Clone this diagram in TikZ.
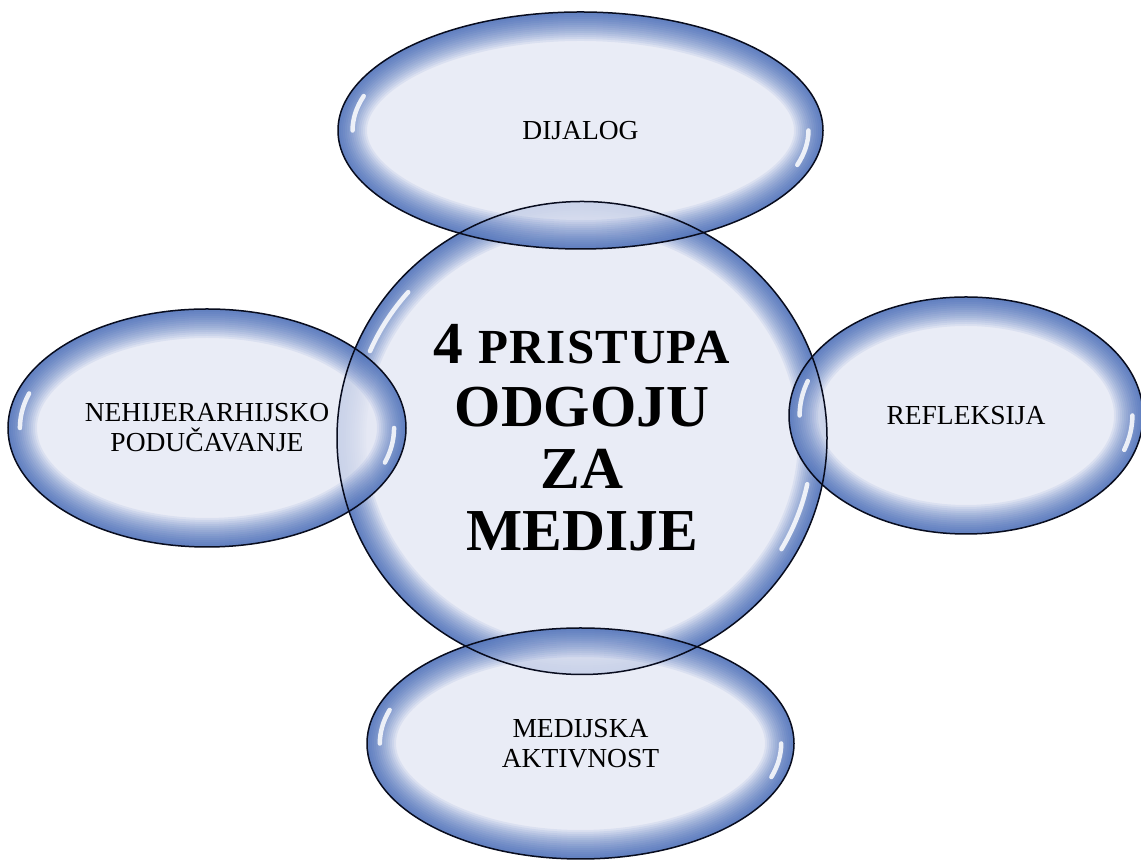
\documentclass[tikz,border=0pt]{standalone}
\usepackage{fontspec}
\setmainfont{Liberation Serif}
\usepackage{tikz}
\usetikzlibrary{shapes.geometric,positioning,backgrounds}

\definecolor{bubfill}{RGB}{228,231,244}
\definecolor{bubedge}{RGB}{38,82,172}
\definecolor{bubline}{RGB}{8,12,30}

\begin{document}
\begin{tikzpicture}[x=1pt,y=1pt,
  bubble/.style={ellipse,inner sep=0pt,align=center,font=\fontsize{27.5}{30}\selectfont},
  gloss/.style={white,line width=4.5pt,line cap=round,draw opacity=0.85}]
\useasboundingbox (0,0) rectangle (1141,861);
\node[bubble] (pristupi) at (582,423) [minimum width=490pt, minimum height=473pt,
  font=\bfseries\fontsize{59.5}{62.3}\selectfont]
  {4 {\fontsize{49}{62.3}\selectfont\addfontfeature{LetterSpace=3}PRISTUPA}\\ODGOJU\\ZA\\MEDIJE};
\node[bubble] (dijalog) [minimum width=485pt, minimum height=237pt,
  node distance=307.5pt, above of=pristupi, xshift=-1.5pt] {DIJALOG};
\node[bubble] (poducavanje) [minimum width=398pt, minimum height=238pt,
  node distance=375pt, left of=pristupi, yshift=10pt] {NEHIJERARHIJSKO\\PODUČAVANJE};
\node[bubble] (refleksija) [minimum width=354pt, minimum height=237pt,
  node distance=384pt, right of=pristupi, yshift=22.5pt] {REFLEKSIJA};
\node[bubble] (aktivnost) [minimum width=427pt, minimum height=231pt,
  node distance=305.5pt, below of=pristupi, xshift=-1.5pt] {MEDIJSKA\\AKTIVNOST};
% bubble fills behind the text
\begin{pgfonlayer}{background}
\foreach \n/\rx/\ry in {pristupi/245/236.5, dijalog/242.5/118.5,
    poducavanje/199/119, refleksija/177/118.5, aktivnost/213.5/115.5}
{
  \begin{scope}[shift={(\n.center)},xscale=\rx,yscale=\ry]
    \fill[bubfill,fill opacity=0.8] (0,0) circle[radius=1];
    \begin{scope}
      \clip (0,0) circle[radius=1];
      \foreach \w in {2,6,...,58}
        \draw[bubedge,line width=\w pt,draw opacity=0.075] (0,0) circle[radius=1];
    \end{scope}
  \end{scope}
}
\end{pgfonlayer}
% outlines and highlights
\foreach \n/\rx/\ry/\ga/\gb in {pristupi/245/236.5/148/-21, dijalog/242.5/118.5/171/-9,
    poducavanje/199/119/171/-9, refleksija/177/118.5/171/-9, aktivnost/213.5/115.5/171/-9}
{
  \begin{scope}[shift={(\n.center)},xscale=\rx,yscale=\ry]
    \draw[gloss] (\ga-9:0.94) arc[start angle=\ga-9, end angle=\ga+9, radius=0.94];
    \draw[gloss] (\gb-9:0.94) arc[start angle=\gb-9, end angle=\gb+9, radius=0.94];
    \draw[bubline,line width=1.5pt] (0,0) circle[radius=1];
  \end{scope}
}
\end{tikzpicture}
\end{document}
